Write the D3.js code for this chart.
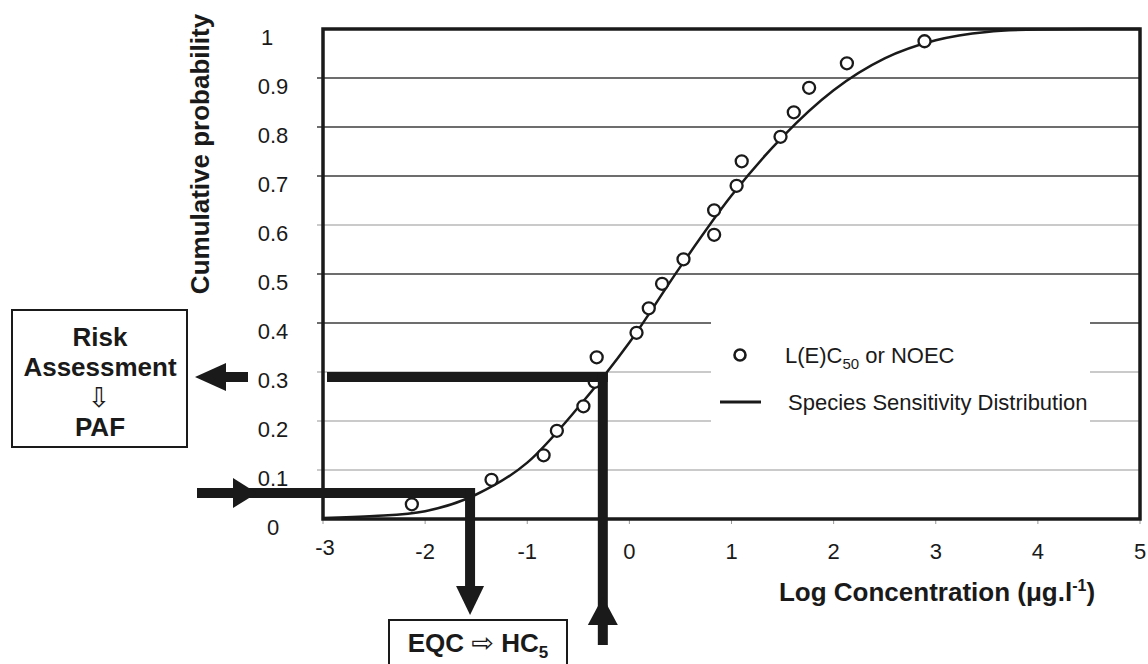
<!DOCTYPE html>
<html>
<head>
<meta charset="utf-8">
<script src="https://cdn.jsdelivr.net/npm/d3@7"></script>
<style>
  body { margin: 0; background: #fff; }
  svg { display: block; font-family: 'Liberation Sans', Arial, Helvetica, sans-serif; }
</style>
</head>
<body>
<svg id="chart" width="1148" height="664"></svg>
<script>
// Axis ticks
const xTicks = [-3, -2, -1, 0, 1, 2, 3, 4, 5];
const yTicks = [0, 0.1, 0.2, 0.3, 0.4, 0.5, 0.6, 0.7, 0.8, 0.9, 1];
const yTickLabels = ['0', '0.1', '0.2', '0.3', '0.4', '0.5', '0.6', '0.7', '0.8', '0.9', '1'];

// Observed toxicity data, L(E)C50 or NOEC (log concentration, cumulative probability)
const obsLogConc = [-2.13, -1.35, -0.84, -0.71, -0.45, -0.34, -0.32, 0.07, 0.19, 0.32,
  0.53, 0.83, 0.83, 1.05, 1.10, 1.48, 1.61, 1.76, 2.13, 2.89];
const obsCumProb = [0.03, 0.08, 0.13, 0.18, 0.23, 0.28, 0.33, 0.38, 0.43, 0.48,
  0.53, 0.58, 0.63, 0.68, 0.73, 0.78, 0.83, 0.88, 0.93, 0.975];

// Fitted species sensitivity distribution
const ssdLogConc = [-3, -2.5, -2, -1.5, -1, -0.5, 0, 0.5, 1, 1.5, 2, 2.5, 3, 3.5, 4, 4.5, 5];
const ssdCumProb = [0.002, 0.006, 0.016, 0.05, 0.115, 0.228, 0.36, 0.515, 0.66, 0.78,
  0.875, 0.94, 0.977, 0.994, 0.999, 1, 1];

// Read-outs shown by the arrows
const hc5LogConc = -1.56;
const hc5Prob = 0.053;
const eqcLogConc = -0.26;
const pafProb = 0.29;

const svg = d3.select('#chart');
const ink = '#1a1a1a';

const x = d3.scaleLinear().domain([-3, 5]).range([323, 1140]);
const y = d3.scaleLinear().domain([0, 1]).range([519, 29]);

// Gridlines
svg.append('g')
  .selectAll('line')
  .data(yTicks.filter((v) => v > 0 && v < 1))
  .join('line')
  .attr('x1', x(-3) - 6)
  .attr('x2', x(5))
  .attr('y1', (d) => y(d))
  .attr('y2', (d) => y(d))
  .attr('stroke', (d) => (d <= 0.3 || d === 0.6) ? '#b8b8b8' : '#3c3c3c')
  .attr('stroke-width', 1.5);

// Legend background hides the gridlines behind it
svg.append('rect')
  .attr('x', 711).attr('y', 316)
  .attr('width', 379).attr('height', 112)
  .attr('fill', '#fff');

// x tick marks
svg.append('g')
  .selectAll('line')
  .data(xTicks)
  .join('line')
  .attr('x1', (d) => x(d)).attr('x2', (d) => x(d))
  .attr('y1', y(0)).attr('y2', y(0) + 5)
  .attr('stroke', '#999')
  .attr('stroke-width', 1);

// Tick labels
svg.append('g')
  .selectAll('text')
  .data(yTicks)
  .join('text')
  .attr('x', (d) => d === 1 ? 267 : 273)
  .attr('y', (d) => y(d) + 16)
  .attr('text-anchor', 'middle')
  .attr('font-size', 22)
  .attr('fill', ink)
  .text((d, i) => yTickLabels[i]);

svg.append('g')
  .selectAll('text')
  .data(xTicks)
  .join('text')
  .attr('x', (d) => x(d) + (d === -3 ? 2 : 0))
  .attr('y', (d) => y(0) + (d === -3 ? 36 : 40))
  .attr('text-anchor', 'middle')
  .attr('font-size', 22)
  .attr('fill', ink)
  .text((d) => d);

// SSD curve
const line = d3.line()
  .x((d) => x(d[0]))
  .y((d) => y(d[1]))
  .curve(d3.curveMonotoneX);

svg.append('path')
  .datum(ssdLogConc.map((v, i) => [v, ssdCumProb[i]]))
  .attr('fill', 'none')
  .attr('stroke', ink)
  .attr('stroke-width', 2.5)
  .attr('d', line);

// Observations
svg.append('g')
  .selectAll('circle')
  .data(obsLogConc.map((v, i) => [v, obsCumProb[i]]))
  .join('circle')
  .attr('cx', (d) => x(d[0]))
  .attr('cy', (d) => y(d[1]))
  .attr('r', 6)
  .attr('fill', '#fff')
  .attr('stroke', ink)
  .attr('stroke-width', 2.3);

// Plot frame
svg.append('rect')
  .attr('x', x(-3)).attr('y', y(1))
  .attr('width', x(5) - x(-3)).attr('height', y(0) - y(1))
  .attr('fill', 'none')
  .attr('stroke', ink)
  .attr('stroke-width', 3.5);

// Legend
const legend = svg.append('g');
legend.append('circle')
  .attr('cx', 740).attr('cy', 355).attr('r', 5.5)
  .attr('fill', '#fff').attr('stroke', ink).attr('stroke-width', 2.6);
const lt1 = legend.append('text')
  .attr('x', 785).attr('y', 363)
  .attr('font-size', 22).attr('fill', ink);
lt1.append('tspan').text('L(E)C');
lt1.append('tspan').attr('font-size', 15).attr('dy', 6).text('50');
lt1.append('tspan').attr('dy', -6).text(' or NOEC');
legend.append('line')
  .attr('x1', 720).attr('x2', 761).attr('y1', 402).attr('y2', 402)
  .attr('stroke', ink).attr('stroke-width', 3);
legend.append('text')
  .attr('x', 788).attr('y', 410)
  .attr('font-size', 22).attr('fill', ink)
  .text('Species Sensitivity Distribution');

// Axis titles
svg.append('text')
  .attr('x', 937).attr('y', 601)
  .attr('text-anchor', 'middle')
  .attr('font-size', 26).attr('font-weight', 'bold').attr('fill', ink)
  .call((t) => {
    t.append('tspan').text('Log Concentration (\u03bcg.l');
    t.append('tspan').attr('font-size', 16).attr('dy', -10).text('-1');
    t.append('tspan').attr('dy', 10).text(')');
  });

svg.append('text')
  .attr('transform', 'translate(209,154) rotate(-90)')
  .attr('text-anchor', 'middle')
  .attr('font-size', 26).attr('font-weight', 'bold').attr('fill', ink)
  .text('Cumulative probability');

// Thick arrows
const ann = svg.append('g').attr('fill', ink).attr('stroke', ink);

function bar(x1, y1, x2, y2) {
  ann.append('line')
    .attr('x1', x1).attr('y1', y1).attr('x2', x2).attr('y2', y2)
    .attr('stroke-width', 10);
}
function head(points) {
  ann.append('polygon')
    .attr('points', points.map((p) => p.join(',')).join(' '))
    .attr('stroke', 'none');
}

// HC5: from probability 0.05 across to the curve, then down to EQC
const yHc5 = y(hc5Prob);
const xHc5 = x(hc5LogConc);
bar(197, yHc5, xHc5 + 5, yHc5);
head([[233, yHc5 - 15], [257, yHc5], [233, yHc5 + 15]]);
bar(xHc5, yHc5 - 5, xHc5, 592);
head([[xHc5 - 14, 586], [xHc5 + 14, 586], [xHc5, 615]]);

// PAF: from EQC up to the curve, then left to risk assessment
const yPaf = y(pafProb);
const xEqc = x(eqcLogConc);
bar(327, yPaf, xEqc + 5, yPaf);
bar(xEqc, yPaf - 5, xEqc, 645);
head([[xEqc - 15, 625], [xEqc + 15, 625], [xEqc, 597]]);
bar(222, 377, 248, 377);
head([[226, 363], [226, 391], [195, 377]]);

// Boxes
svg.append('rect')
  .attr('x', 12).attr('y', 310).attr('width', 175).attr('height', 137)
  .attr('fill', '#fff').attr('stroke', ink).attr('stroke-width', 2);
const riskText = [['Risk', 346], ['Assessment', 376], ['PAF', 436]];
svg.append('g')
  .selectAll('text')
  .data(riskText)
  .join('text')
  .attr('x', 100).attr('y', (d) => d[1])
  .attr('text-anchor', 'middle')
  .attr('font-size', 26).attr('font-weight', 'bold').attr('fill', ink)
  .text((d) => d[0]);
svg.append('text')
  .attr('x', 99).attr('y', 407)
  .attr('text-anchor', 'middle')
  .attr('font-family', 'DejaVu Sans')
  .attr('font-size', 27).attr('fill', ink)
  .text('\u21e9');

svg.append('rect')
  .attr('x', 389).attr('y', 620).attr('width', 178).attr('height', 60)
  .attr('fill', '#fff').attr('stroke', ink).attr('stroke-width', 2);
const eqc = svg.append('text')
  .attr('x', 478).attr('y', 652)
  .attr('text-anchor', 'middle')
  .attr('font-size', 26).attr('font-weight', 'bold').attr('fill', ink);
eqc.append('tspan').text('EQC ');
eqc.append('tspan').attr('font-family', 'DejaVu Sans').attr('font-weight', 'normal')
  .attr('font-size', 27).text('\u21e8');
eqc.append('tspan').text(' HC');
eqc.append('tspan').attr('font-size', 17).attr('dy', 6).text('5');
</script>
</body>
</html>
